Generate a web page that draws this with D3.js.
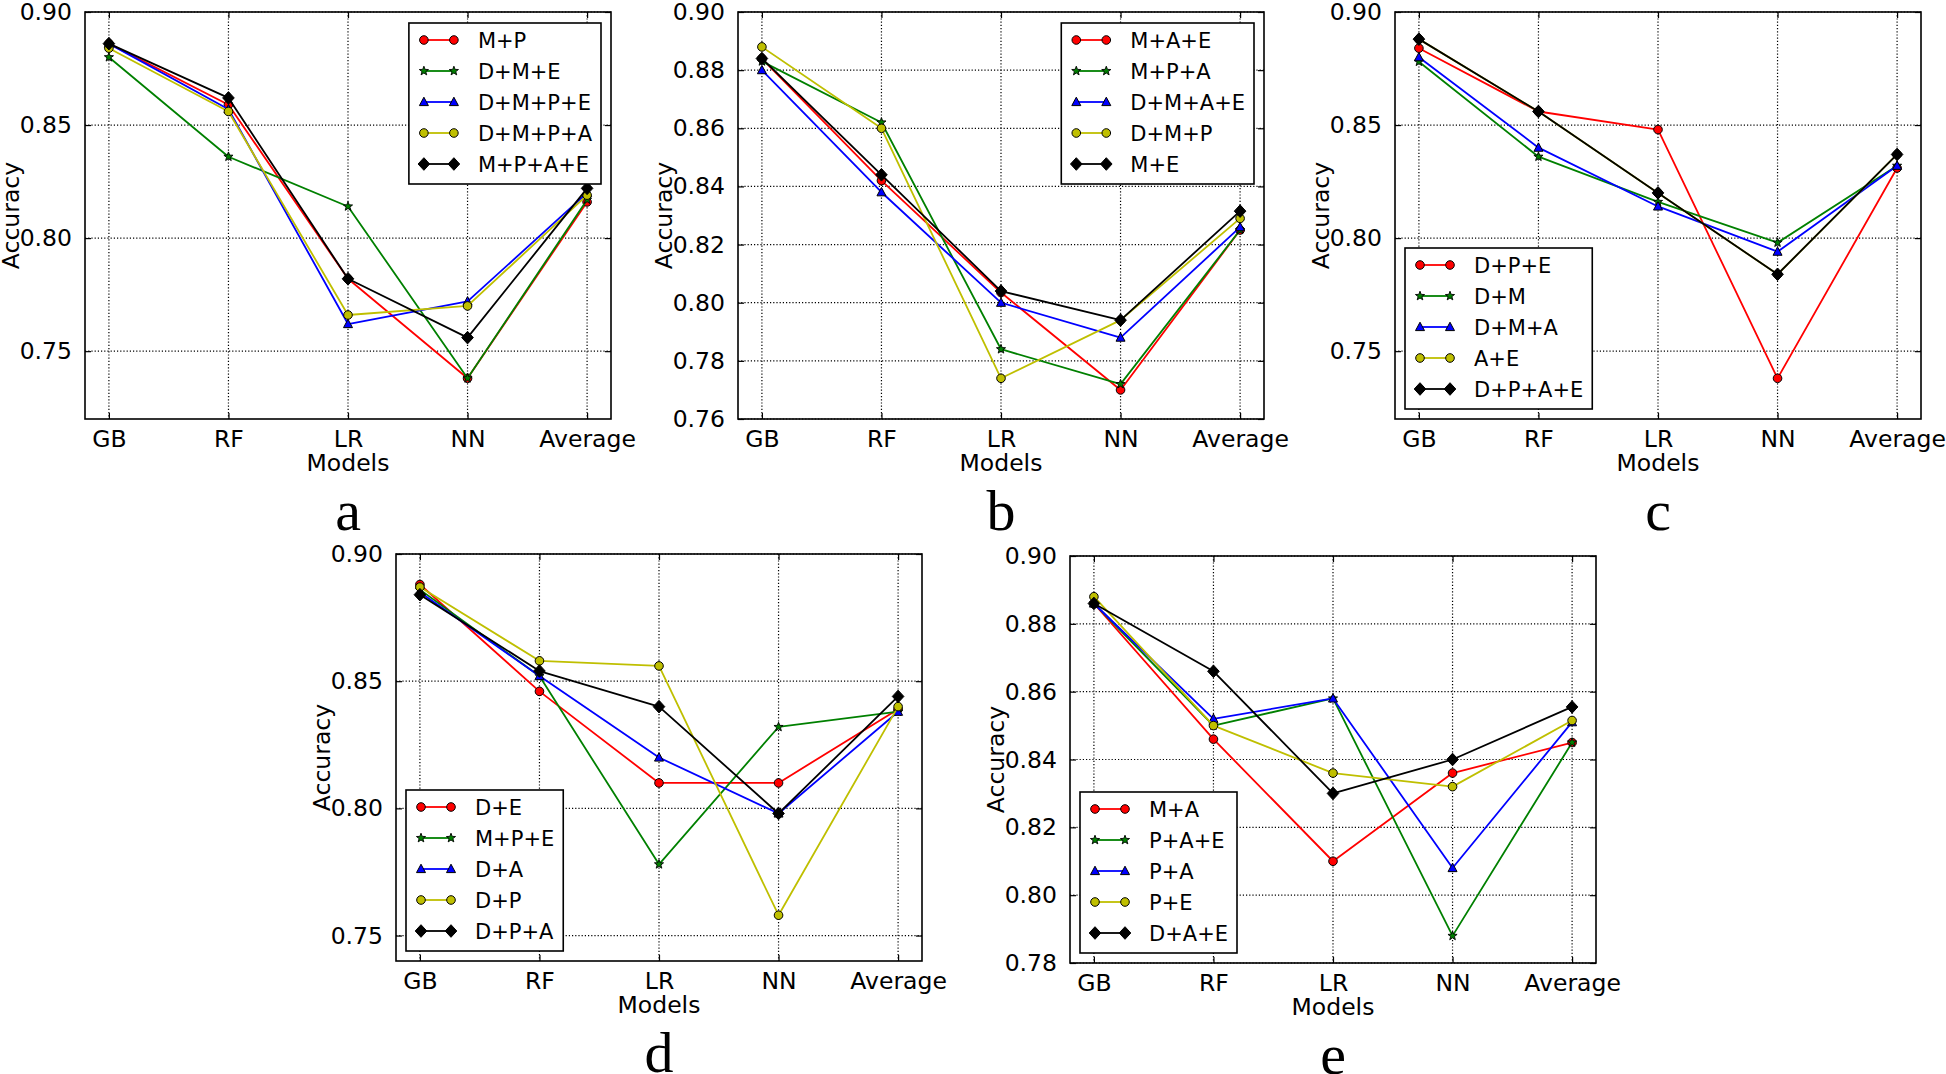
<!DOCTYPE html>
<html><head><meta charset="utf-8">
<script src="https://cdn.jsdelivr.net/npm/d3@7"></script>
<style>body{margin:0;background:#fff} svg{display:block}</style>
</head><body>
<svg id="chart" width="1946" height="1074"></svg>
<script>
// ---------------- DATA ----------------
const models = ["GB", "RF", "LR", "NN", "Average"];

const panelALabels = ["M+P", "D+M+E", "D+M+P+E", "D+M+P+A", "M+P+A+E"];
const panelAValues = [
  [0.886, 0.859, 0.782, 0.738, 0.816],
  [0.880, 0.836, 0.814, 0.738, 0.817],
  [0.886, 0.857, 0.762, 0.772, 0.820],
  [0.884, 0.856, 0.766, 0.770, 0.819],
  [0.886, 0.862, 0.782, 0.756, 0.822]
];
const panelATicks = [0.75, 0.80, 0.85, 0.90];

const panelBLabels = ["M+A+E", "M+P+A", "D+M+A+E", "D+M+P", "M+E"];
const panelBValues = [
  [0.884, 0.842, 0.8035, 0.770, 0.825],
  [0.883, 0.862, 0.784, 0.772, 0.825],
  [0.880, 0.838, 0.800, 0.788, 0.826],
  [0.888, 0.860, 0.774, 0.794, 0.829],
  [0.884, 0.844, 0.804, 0.794, 0.8315]
];
const panelBTicks = [0.76, 0.78, 0.80, 0.82, 0.84, 0.86, 0.88, 0.90];

const panelCLabels = ["D+P+E", "D+M", "D+M+A", "A+E", "D+P+A+E"];
const panelCValues = [
  [0.884, 0.856, 0.848, 0.738, 0.831],
  [0.878, 0.836, 0.816, 0.798, 0.832],
  [0.880, 0.840, 0.814, 0.794, 0.832],
  [0.888, 0.856, 0.820, 0.784, 0.837],
  [0.888, 0.856, 0.820, 0.784, 0.837]
];
const panelCTicks = [0.75, 0.80, 0.85, 0.90];

const panelDLabels = ["D+E", "M+P+E", "D+A", "D+P", "D+P+A"];
const panelDValues = [
  [0.888, 0.846, 0.810, 0.810, 0.839],
  [0.886, 0.852, 0.778, 0.832, 0.838],
  [0.885, 0.852, 0.820, 0.798, 0.838],
  [0.887, 0.858, 0.856, 0.758, 0.840],
  [0.884, 0.854, 0.840, 0.798, 0.844]
];
const panelDTicks = [0.75, 0.80, 0.85, 0.90];

const panelELabels = ["M+A", "P+A+E", "P+A", "P+E", "D+A+E"];
const panelEValues = [
  [0.886, 0.846, 0.810, 0.836, 0.845],
  [0.886, 0.850, 0.858, 0.788, 0.845],
  [0.886, 0.852, 0.858, 0.808, 0.851],
  [0.888, 0.850, 0.836, 0.832, 0.8515],
  [0.886, 0.866, 0.830, 0.840, 0.8555]
];
const panelETicks = [0.78, 0.80, 0.82, 0.84, 0.86, 0.88, 0.90];

const panelLetters = ["a", "b", "c", "d", "e"];
const xAxisTitle = "Models";
const yAxisTitle = "Accuracy";

// ---------------- STYLE / LAYOUT ----------------
const seriesColors = ["#ff0000", "#008000", "#0000ff", "#bfbf00", "#000000"];
const seriesMarkers = ["circle", "star", "triangle", "circle", "diamond"];

const W = 526, H = 407;
const panels = [
  {labels: panelALabels, values: panelAValues, ticks: panelATicks, domain: [0.72, 0.90], left: 85,   top: 12,  legend: "tr", letter: panelLetters[0]},
  {labels: panelBLabels, values: panelBValues, ticks: panelBTicks, domain: [0.76, 0.90], left: 738,  top: 12,  legend: "tr", letter: panelLetters[1]},
  {labels: panelCLabels, values: panelCValues, ticks: panelCTicks, domain: [0.72, 0.90], left: 1395, top: 12,  legend: "bl", letter: panelLetters[2]},
  {labels: panelDLabels, values: panelDValues, ticks: panelDTicks, domain: [0.74, 0.90], left: 396,  top: 554, legend: "bl", letter: panelLetters[3]},
  {labels: panelELabels, values: panelEValues, ticks: panelETicks, domain: [0.78, 0.90], left: 1070, top: 556, legend: "bl", letter: panelLetters[4]}
];

const FONT = "'DejaVu Sans', sans-serif";
const svg = d3.select("#chart");

function markerPath(type) {
  if (type === "circle") return "M4.3,0A4.3,4.3 0 1,1 -4.3,0A4.3,4.3 0 1,1 4.3,0Z";
  if (type === "triangle") return "M0,-4.8L4.5,3.6L-4.5,3.6Z";
  if (type === "diamond") return "M0,-6.3L5.8,0L0,6.3L-5.8,0Z";
  if (type === "star") {
    const pts = [];
    for (let i = 0; i < 10; i++) {
      const r = i % 2 === 0 ? 4.8 : 2.0;
      const a = -Math.PI / 2 + i * Math.PI / 5;
      pts.push([r * Math.cos(a), r * Math.sin(a)]);
    }
    return "M" + pts.map(p => p[0].toFixed(2) + "," + p[1].toFixed(2)).join("L") + "Z";
  }
}

function drawMarker(g, type, color, x, y) {
  g.append("path")
    .attr("d", markerPath(type))
    .attr("transform", `translate(${x},${y})`)
    .attr("fill", color)
    .attr("stroke", "#000")
    .attr("stroke-width", type === "star" ? 0.9 : 1);
}

panels.forEach(p => {
  const g = svg.append("g");
  const x = d3.scalePoint().domain(models).range([p.left, p.left + W]).padding(0.2);
  const y = d3.scaleLinear().domain(p.domain).range([p.top + H, p.top]);
  const bottom = p.top + H, right = p.left + W;

  // grid
  g.append("g").selectAll("line").data(models).join("line")
    .attr("x1", d => x(d)).attr("x2", d => x(d))
    .attr("y1", p.top).attr("y2", bottom)
    .attr("stroke", "#000").attr("stroke-width", 1.2).attr("stroke-dasharray", "1.2,2");
  g.append("g").selectAll("line").data(p.ticks).join("line")
    .attr("y1", d => y(d)).attr("y2", d => y(d))
    .attr("x1", p.left).attr("x2", right)
    .attr("stroke", "#000").attr("stroke-width", 1.2).attr("stroke-dasharray", "1.2,2");

  // axes via d3 axis (inward ticks)
  const xAxis = d3.axisBottom(x).tickSizeInner(-6).tickSizeOuter(0).tickPadding(11);
  const xa = g.append("g").attr("transform", `translate(0,${bottom})`).call(xAxis);
  const xTop = d3.axisTop(x).tickSizeInner(-6).tickSizeOuter(0).tickFormat("");
  const xt = g.append("g").attr("transform", `translate(0,${p.top})`).call(xTop);
  const yAxis = d3.axisLeft(y).tickValues(p.ticks).tickFormat(d3.format(".2f")).tickSizeInner(-6).tickSizeOuter(0).tickPadding(13);
  const ya = g.append("g").attr("transform", `translate(${p.left},0)`).call(yAxis);
  const yRight = d3.axisRight(y).tickValues(p.ticks).tickSizeInner(-6).tickSizeOuter(0).tickFormat("");
  const yr = g.append("g").attr("transform", `translate(${right},0)`).call(yRight);
  [xa, xt, ya, yr].forEach(a => {
    a.select(".domain").remove();
    a.selectAll(".tick line").attr("stroke", "#000").attr("stroke-width", 1.2);
    a.selectAll("text").attr("font-family", FONT).attr("font-size", 23.5).attr("fill", "#000");
  });

  // series
  p.values.forEach((vals, si) => {
    const line = d3.line().x((d, i) => x(models[i])).y(d => y(d));
    g.append("path").attr("d", line(vals))
      .attr("fill", "none").attr("stroke", seriesColors[si]).attr("stroke-width", 1.8)
      .attr("stroke-linejoin", "round");
    vals.forEach((v, i) => drawMarker(g, seriesMarkers[si], seriesColors[si], x(models[i]), y(v)));
  });

  // frame
  g.append("rect").attr("x", p.left).attr("y", p.top).attr("width", W).attr("height", H)
    .attr("fill", "none").attr("stroke", "#000").attr("stroke-width", 1.6);

  // axis titles
  g.append("text").attr("x", p.left + W / 2).attr("y", bottom + 52)
    .attr("text-anchor", "middle").attr("font-family", FONT).attr("font-size", 23.5).text(xAxisTitle);
  g.append("text").attr("transform", `translate(${p.left - 66},${p.top + H / 2}) rotate(-90)`)
    .attr("text-anchor", "middle").attr("font-family", FONT).attr("font-size", 23.5).text(yAxisTitle);

  // panel letter
  g.append("text").attr("x", p.left + W / 2).attr("y", bottom + 111)
    .attr("text-anchor", "middle").attr("font-family", "'Liberation Serif', serif").attr("font-size", 58).text(p.letter);

  // legend
  const lg = g.append("g");
  const texts = p.labels.map((lab, i) => lg.append("text").attr("font-family", FONT).attr("font-size", 21).text(lab));
  const maxW = d3.max(texts, t => t.node().getComputedTextLength());
  const bw = 69 + maxW + 9, bh = 161;
  const bx = p.legend === "tr" ? right - 10 - bw : p.left + 10;
  const by = p.legend === "tr" ? p.top + 11 : bottom - 10 - bh;
  lg.insert("rect", ":first-child").attr("x", bx).attr("y", by).attr("width", bw).attr("height", bh)
    .attr("fill", "#fff").attr("stroke", "#000").attr("stroke-width", 1.6);
  p.labels.forEach((lab, i) => {
    const ry = by + 17 + i * 31;
    lg.append("line").attr("x1", bx + 15).attr("x2", bx + 45).attr("y1", ry).attr("y2", ry)
      .attr("stroke", seriesColors[i]).attr("stroke-width", 1.8);
    drawMarker(lg, seriesMarkers[i], seriesColors[i], bx + 15, ry);
    drawMarker(lg, seriesMarkers[i], seriesColors[i], bx + 45, ry);
    texts[i].attr("x", bx + 69).attr("y", ry + 8);
  });
});
</script>
</body></html>
